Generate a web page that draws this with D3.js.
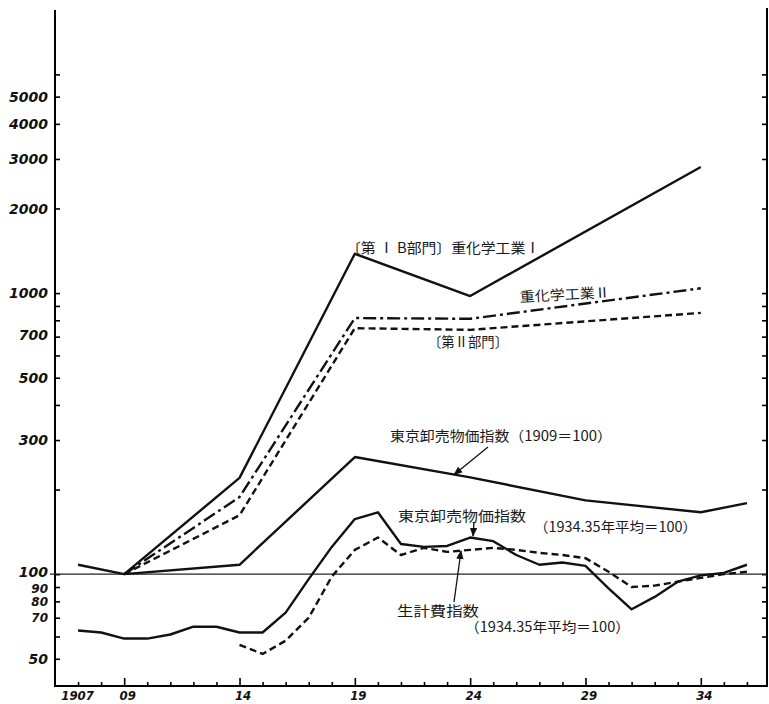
<!DOCTYPE html>
<html>
<head>
<meta charset="utf-8">
<script src="https://cdn.jsdelivr.net/npm/d3@7"></script>
<style>
  body { margin: 0; background: #fff; }
  .jp { font-family: "Noto Sans CJK JP", "Noto Sans", sans-serif; font-size: 14px; fill: #1a1a1a; }
  .ylab { font-family: "DejaVu Sans", sans-serif; font-weight: bold; font-style: italic; font-size: 14px; fill: #111; }
  .ylab.small { font-size: 12px; }
  .xlab { font-family: "Liberation Sans Narrow", "DejaVu Sans Condensed", sans-serif; font-weight: bold; font-style: italic; font-size: 13px; fill: #111; }
</style>
</head>
<body>
<script>
// data (log scale index)
var heavyYears = [1909, 1914, 1919, 1924, 1934];
var heavyI = [100, 220, 1380, 976, 2810];      // 〔第ⅠB部門〕重化学工業Ⅰ
var heavyII = [100, 188, 815, 810, 1040];      // 重化学工業Ⅱ
var dept2 = [100, 162, 750, 740, 850];         // 〔第Ⅱ部門〕

var wYears1909 = [1907, 1909, 1914, 1919, 1924, 1929, 1934, 1936];
var wholesale1909 = [108, 100, 108, 261, 221, 183, 166, 179];

var wYears1934 = [1907, 1908, 1909, 1910, 1911, 1912, 1913, 1914, 1915, 1916,
  1917, 1918, 1919, 1920, 1921, 1922, 1923, 1924, 1925, 1926,
  1927, 1928, 1929, 1930, 1931, 1932, 1933, 1934, 1935, 1936];
var wholesale1934 = [63, 62, 59, 59, 61, 65, 65, 62, 62, 73,
  96, 125, 157, 166, 128, 125, 126, 135, 131, 117,
  108, 110, 107, 89, 75, 83, 94, 99, 101, 108];

var costYears = [1914, 1915, 1916, 1917, 1918, 1919, 1920, 1921, 1922, 1923,
  1924, 1925, 1926, 1927, 1928, 1929, 1930, 1931, 1932, 1933,
  1934, 1935, 1936];
var livingCost = [56, 52, 58, 70, 98, 122, 135, 117, 124, 120,
  122, 124, 122, 119, 117, 114, 102, 90, 91, 94,
  97, 100, 102];

var yTicks = [6000, 5000, 4000, 3000, 2000, 1000, 900, 800, 700, 600, 500, 400, 300, 200, 100, 90, 80, 70, 60, 50];
var yLabels = [5000, 4000, 3000, 2000, 1000, 700, 500, 300, 100, 90, 80, 70, 50];
var rightTicks = [6000, 5000, 4000, 3000, 2000, 1000, 900, 800, 700, 600, 500, 400, 300, 200, 100, 90, 80, 70, 60];
var xTicks = [1907, 1908, 1909, 1910, 1911, 1912, 1913, 1914, 1915, 1916, 1917, 1918, 1919, 1920, 1921,
  1922, 1923, 1924, 1925, 1926, 1927, 1928, 1929, 1930, 1931, 1932, 1933, 1934, 1935, 1936];
var majorYears = [1909, 1914, 1919, 1924, 1929, 1934];
var xLabels = {1907: "1907", 1909: "09", 1914: "14", 1919: "19", 1924: "24", 1929: "29", 1934: "34"};

// svg setup
var svg = d3.select("body").append("svg")
  .attr("width", 769)
  .attr("height", 704);

var x = d3.scaleLinear().domain([1906, 1936.87]).range([55, 767]);
var y = d3.scaleLog().domain([40, 10000]).range([686, 12]);

// arrow marker
svg.append("defs").append("marker")
  .attr("id", "arrow")
  .attr("viewBox", "0 0 10 10")
  .attr("refX", 9).attr("refY", 5)
  .attr("markerWidth", 7).attr("markerHeight", 7)
  .attr("orient", "auto")
  .append("path")
  .attr("d", "M0,1 L10,5 L0,9 Z")
  .attr("fill", "#111");

// left axis
var leftAxis = svg.append("g")
  .attr("transform", "translate(55,0)")
  .call(d3.axisLeft(y).tickValues(yTicks).tickSize(-5).tickSizeOuter(0).tickPadding(7)
    .tickFormat(d => yLabels.includes(d) ? d : ""));
leftAxis.select(".domain").attr("stroke-width", 2).attr("d", "M0,10V686");
leftAxis.selectAll(".tick line").attr("stroke-width", 1.6);
// the crowded labels under 100 sit a little tighter
leftAxis.selectAll("text")
  .attr("class", d => (d < 100 && d > 50) ? "ylab small" : "ylab")
  .attr("font-family", null).attr("font-size", null)
  .attr("dy", d => d == 100 ? "0.2em" : d == 90 ? "0.42em" : (d < 100 && d > 50) ? "0.32em" : d == 700 ? "0.2em" : "0.34em");

// right axis
var rightAxis = svg.append("g")
  .attr("transform", "translate(767,0)")
  .call(d3.axisRight(y).tickValues(rightTicks).tickSize(-5).tickSizeOuter(0).tickFormat(""));
rightAxis.select(".domain").attr("stroke-width", 2).attr("d", "M0,8V686");
rightAxis.selectAll(".tick line").attr("stroke-width", 1.6);

// bottom axis
var bottomAxis = svg.append("g")
  .attr("transform", "translate(0,686)")
  .call(d3.axisBottom(x).tickValues(xTicks).tickSize(-4).tickSizeOuter(0).tickPadding(5)
    .tickFormat(d => xLabels[d] || ""));
bottomAxis.select(".domain").attr("stroke-width", 2).attr("d", "M54,0H768");
bottomAxis.selectAll(".tick line").attr("stroke-width", 1.6)
  .attr("y2", d => majorYears.includes(d) ? -8 : -4);
bottomAxis.selectAll("text").attr("class", "xlab").attr("font-family", null).attr("font-size", null)
  .attr("dx", d => d == 1907 ? -1 : 3);

// 100 reference line
svg.append("line")
  .attr("x1", 50).attr("x2", x(1936.87))
  .attr("y1", y(100)).attr("y2", y(100))
  .attr("stroke", "#222").attr("stroke-width", 1.2);

// lines
var line = d3.line()
  .x(d => x(d[0]))
  .y(d => y(d[1]));

function drawSeries(years, values, dash) {
  svg.append("path")
    .datum(years.map((yr, i) => [yr, values[i]]))
    .attr("d", line)
    .attr("fill", "none")
    .attr("stroke", "#111")
    .attr("stroke-width", 2.4)
    .attr("stroke-linejoin", "round")
    .attr("stroke-dasharray", dash);
}

drawSeries(heavyYears, heavyI, null);
drawSeries(heavyYears, heavyII, "13,4,3,4");
drawSeries(heavyYears, dept2, "7,4");
drawSeries(wYears1909, wholesale1909, null);
drawSeries(wYears1934, wholesale1934, null);
drawSeries(costYears, livingCost, "7,4");

// labels
function label(txt, lx, ly, w, rot) {
  var t = svg.append("text")
    .attr("class", "jp")
    .attr("x", lx).attr("y", ly)
    .attr("textLength", w)
    .attr("lengthAdjust", "spacingAndGlyphs")
    .text(txt);
  if (rot) t.attr("transform", `rotate(${rot},${lx},${ly})`);
  return t;
}

label("〔第 Ⅰ B部門〕重化学工業Ⅰ", 346, 253, 194);
label("重化学工業Ⅱ", 520, 302, 90, -3);
label("〔第Ⅱ部門〕", 428, 347, 80);
label("東京卸売物価指数（1909＝100）", 390, 441, 222);
label("東京卸売物価指数", 398, 521, 128);
label("（1934.35年平均＝100）", 534, 532, 163);
label("生計費指数", 397, 616, 82);
label("（1934.35年平均＝100）", 465, 632, 165);

// arrows
function arrow(x1, y1, x2, y2) {
  svg.append("line")
    .attr("x1", x1).attr("y1", y1).attr("x2", x2).attr("y2", y2)
    .attr("stroke", "#111").attr("stroke-width", 1.3)
    .attr("marker-end", "url(#arrow)");
}
arrow(488, 447, x(1923.3), y(224) - 1);
arrow(474, 522, 473, 536);
arrow(454, 602, 461, 551);
</script>
</body>
</html>
